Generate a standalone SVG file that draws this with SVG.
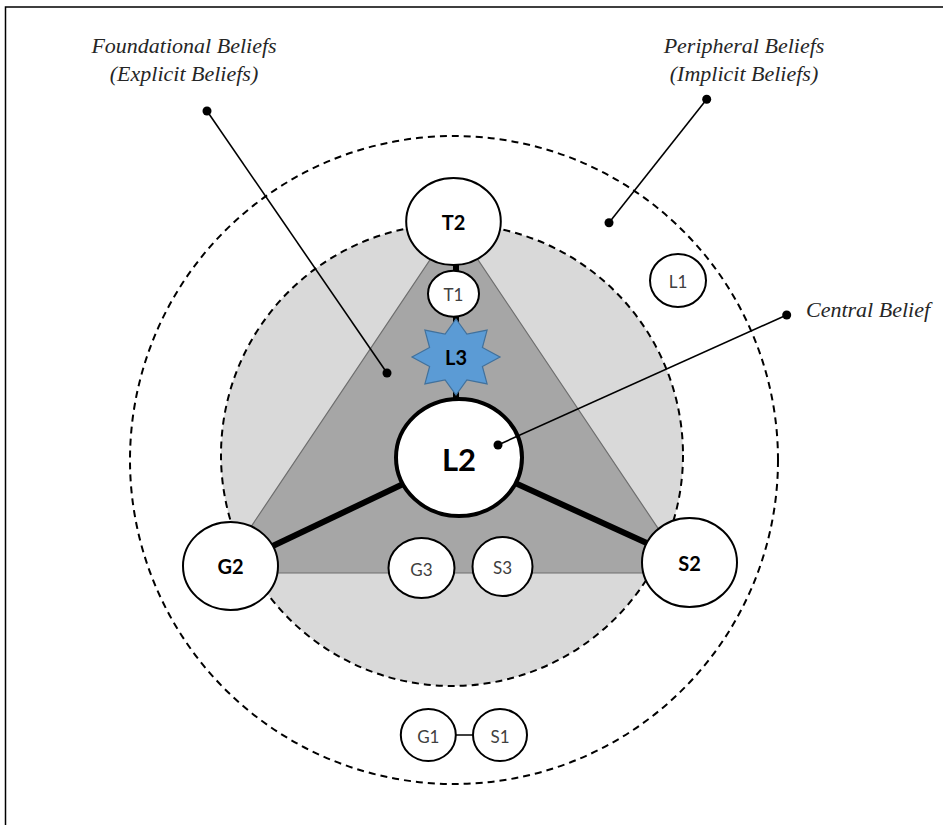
<svg xmlns="http://www.w3.org/2000/svg" width="943" height="825" viewBox="0 0 943 825">
<style>
.node{fill:#fff;stroke:#000;stroke-width:2}
.big{font-family:Lato,"Liberation Sans",sans-serif;font-weight:bold;fill:#000;text-anchor:middle;dominant-baseline:central}
.small{font-family:Lato,"Liberation Sans",sans-serif;fill:#404040;text-anchor:middle;dominant-baseline:central;font-size:17px}
.lbl{font-family:"Liberation Serif",serif;font-style:italic;font-size:22px;fill:#262626}
.dash{fill:none;stroke:#000;stroke-width:2;stroke-dasharray:7 5}
.thick{stroke:#000;stroke-width:6}
.lead{stroke:#000;stroke-width:1.6}
</style>
<rect width="943" height="825" fill="#fff"/>
<path d="M5.5 825 V7 H943" fill="none" stroke="#000" stroke-width="1.5"/>
<g id="peripheral-zone">
<circle cx="454" cy="460" r="324" class="dash"/>
</g>
<g id="foundational-zone">
<circle cx="452" cy="455" r="231" fill="#d9d9d9" stroke="#000" stroke-width="2" stroke-dasharray="7 5"/>
<polygon points="454,224 220,573 688,573" fill="#a6a6a6" stroke="#6e6e6e" stroke-width="1.2"/>
</g>
<g id="connectors">
<line x1="456" y1="262" x2="456" y2="400" class="thick"/>
<line x1="459" y1="457.5" x2="230.5" y2="566" class="thick"/>
<line x1="459" y1="457.5" x2="689.5" y2="562.5" class="thick"/>
<line x1="456" y1="735" x2="473" y2="735" stroke="#000" stroke-width="1.5"/>
</g>
<g id="T2"><ellipse cx="453.5" cy="221.5" rx="47.3" ry="43.5" class="node"/><text x="453.5" y="221.5" class="big" font-size="20">T2</text></g>
<g id="T1"><ellipse cx="453.5" cy="293.7" rx="25.5" ry="23" class="node"/><text x="453.5" y="294" class="small">T1</text></g>
<g id="L3"><polygon points="456,319 466.9,334.2 487.1,330.1 482.4,347.5 500,357 482.4,366.5 487.1,383.9 466.9,379.8 456,395 445.1,379.8 424.9,383.9 429.6,366.5 412,357 429.6,347.5 424.9,330.1 445.1,334.2" fill="#5b9bd5" stroke="#41719c" stroke-width="1.2"/><text x="456" y="357" class="big" font-size="20">L3</text></g>
<g id="L2"><ellipse cx="459" cy="457.5" rx="63" ry="58.5" fill="#fff" stroke="#000" stroke-width="4"/><text x="459" y="459" class="big" font-size="31">L2</text></g>
<g id="G2"><ellipse cx="230.5" cy="566" rx="47.5" ry="44" class="node"/><text x="230.5" y="566" class="big" font-size="20">G2</text></g>
<g id="S2"><ellipse cx="689.5" cy="562.5" rx="47.5" ry="44.5" class="node"/><text x="689.5" y="563" class="big" font-size="20">S2</text></g>
<g id="G3"><ellipse cx="421.5" cy="568" rx="33" ry="30" class="node"/><text x="421.5" y="569" class="small">G3</text></g>
<g id="S3"><ellipse cx="502.5" cy="566.5" rx="30" ry="29.5" class="node"/><text x="502.5" y="567" class="small">S3</text></g>
<g id="G1"><ellipse cx="428.3" cy="735" rx="27.5" ry="26" class="node"/><text x="428.3" y="736" class="small">G1</text></g>
<g id="S1"><ellipse cx="500" cy="735" rx="27" ry="26" class="node"/><text x="500" y="736" class="small">S1</text></g>
<g id="L1"><ellipse cx="678" cy="280.5" rx="28" ry="26.5" class="node"/><text x="678" y="281" class="small">L1</text></g>
<g id="annotations">
<line x1="207" y1="111" x2="387" y2="373" class="lead"/>
<circle cx="207" cy="111" r="4.5"/><circle cx="387" cy="373" r="4.5"/>
<line x1="706.7" y1="99.3" x2="609" y2="222.7" class="lead"/>
<circle cx="706.7" cy="99.3" r="4.5"/><circle cx="609" cy="222.7" r="4.5"/>
<line x1="786.7" y1="315" x2="498" y2="445" class="lead"/>
<circle cx="786.7" cy="315" r="4.5"/><circle cx="498" cy="445" r="4.5"/>
<text x="184" y="53" class="lbl" text-anchor="middle">Foundational Beliefs</text>
<text x="184" y="81" class="lbl" text-anchor="middle">(Explicit Beliefs)</text>
<text x="744" y="53" class="lbl" text-anchor="middle">Peripheral Beliefs</text>
<text x="744" y="81" class="lbl" text-anchor="middle">(Implicit Beliefs)</text>
<text x="806" y="317" class="lbl">Central Belief</text>
</g>
</svg>
